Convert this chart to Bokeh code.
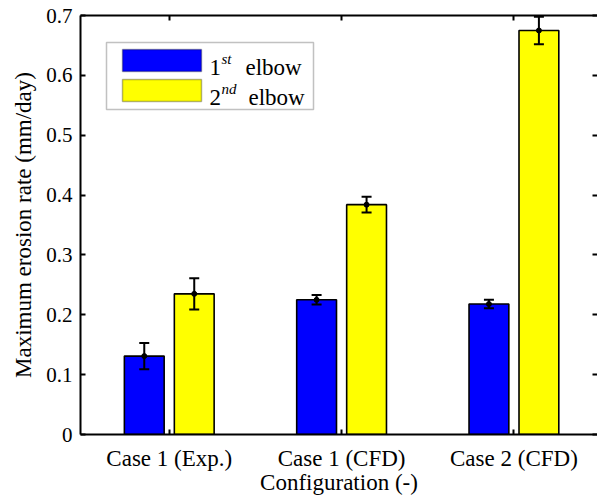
from bokeh.plotting import figure
from bokeh.models import (Range1d, FixedTicker, LinearAxis, Whisker, TeeHead,
                          ColumnDataSource, Label, BoxAnnotation)
from bokeh.embed import file_html
from bokeh.resources import INLINE
import numpy as np

# ---- data ----
categories = ["Case 1 (Exp.)", "Case 1 (CFD)", "Case 2 (CFD)"]
elbow1 = [0.131, 0.225, 0.218]
elbow1_err = [0.022, 0.008, 0.007]
elbow2 = [0.235, 0.384, 0.675]
elbow2_err = [0.026, 0.013, 0.023]
y_ticks = [0, 0.1, 0.2, 0.3, 0.4, 0.5, 0.6, 0.7]
y_tick_labels = ["0", "0.1", "0.2", "0.3", "0.4", "0.5", "0.6", "0.7"]
series_labels = [("1", "st", "elbow"), ("2", "nd", "elbow")]

FONT = "Liberation Serif"
BLUE = "#0000ff"
YELLOW = "#ffff00"

W, H = 597, 504
FL, FT, FB = 80, 15, 434   # frame left/top/bottom in pixels
p = figure(width=W, height=H, output_backend="svg", toolbar_location=None,
           x_range=Range1d(-0.015, 2.985), y_range=Range1d(0, 0.7),
           min_border_left=FL, min_border_right=0, min_border_top=FT,
           min_border_bottom=H - FB)
p.outline_line_color = None
p.grid.visible = False
p.background_fill_color = "white"

xc = np.arange(len(categories)) + 0.5
off = 0.145
bw = 0.231

src1 = ColumnDataSource(dict(x=xc - off, top=elbow1,
                             lo=np.array(elbow1) - np.array(elbow1_err),
                             hi=np.array(elbow1) + np.array(elbow1_err)))
src2 = ColumnDataSource(dict(x=xc + off, top=elbow2,
                             lo=np.array(elbow2) - np.array(elbow2_err),
                             hi=np.array(elbow2) + np.array(elbow2_err)))

for src, col in ((src1, BLUE), (src2, YELLOW)):
    p.vbar(x="x", top="top", width=bw, bottom=0, source=src,
           fill_color=col, line_color="black", line_width=1.6)
for src in (src1, src2):
    w = Whisker(base="x", lower="lo", upper="hi", source=src,
                line_color="black", line_width=2, level="overlay",
                upper_head=TeeHead(size=10, line_width=2, line_color="black"),
                lower_head=TeeHead(size=10, line_width=2, line_color="black"))
    p.add_layout(w)
    p.scatter(x="x", y="top", source=src, size=5, color="black", level="overlay")

# axes
xt = FixedTicker(ticks=list(xc))
yt = FixedTicker(ticks=y_ticks)
bottom = p.below[0]
left = p.left[0]
bottom.ticker = xt
bottom.major_label_overrides = {float(v): c for v, c in zip(xc, categories)}
left.ticker = yt
left.major_label_overrides = {float(v): s for v, s in zip(y_ticks, y_tick_labels)}

top = LinearAxis(ticker=xt, major_label_text_font_size="0px", major_label_standoff=0)
p.add_layout(top, "above")
right = LinearAxis(ticker=yt, major_label_text_font_size="0px", major_label_standoff=0)
p.add_layout(right, "right")

for ax in (bottom, left, top, right):
    ax.axis_line_width = 2
    ax.axis_line_color = "black"
    ax.major_tick_line_width = 2
    ax.major_tick_line_color = "black"
    ax.major_tick_in = 5
    ax.major_tick_out = 0
    ax.minor_tick_line_color = None
    ax.major_label_text_font = FONT
    ax.major_label_text_color = "black"
    ax.axis_label_text_font = FONT
    ax.axis_label_text_color = "black"
    ax.axis_label_text_font_style = "normal"
right.axis_line_color = None

bottom.major_label_text_font_size = "23px"
left.major_label_text_font_size = "21px"
bottom.major_label_standoff = 11
left.major_label_standoff = 8
bottom.axis_label = "Configuration (-)"
left.axis_label = "Maximum erosion rate (mm/day)"
bottom.axis_label_text_font_size = "23px"
left.axis_label_text_font_size = "23px"
bottom.axis_label_standoff = -4
left.axis_label_standoff = 7

# ---- manual legend (layout in pixels -> data coords) ----
def xpx(px):
    return -0.015 + 3.0 * (px - FL) / (W - FL)

def ypx(py):
    return 0.7 * (FB - py) / (FB - FT)

p.add_layout(BoxAnnotation(left=xpx(106), right=xpx(313), top=ypx(42), bottom=ypx(109),
                           fill_color="white", fill_alpha=1, line_color="#333333",
                           line_width=1.5, level="overlay"))
rows = [(49, 71, BLUE), (79, 101, YELLOW)]
for (t, b, col), (num, sup, word) in zip(rows, series_labels):
    p.add_layout(BoxAnnotation(left=xpx(122), right=xpx(201), top=ypx(t), bottom=ypx(b),
                               fill_color=col, fill_alpha=1, line_color="black",
                               line_width=1.5, level="overlay"))
    base = ypx(b - 4)
    p.add_layout(Label(x=xpx(209), y=base, text=num, text_font=FONT, text_color="black",
                       text_font_size="23px", text_baseline="alphabetic", level="overlay"))
    p.add_layout(Label(x=xpx(221), y=base, y_offset=9, text=sup, text_font=FONT,
                       text_color="black", text_font_style="italic", text_font_size="15px",
                       text_baseline="alphabetic", level="overlay"))
    p.add_layout(Label(x=xpx(245 if num == "1" else 248), y=base, text=word, text_font=FONT,
                       text_color="black", text_font_size="23px",
                       text_baseline="alphabetic", level="overlay"))

open("out.html", "w").write(file_html(p, INLINE))
